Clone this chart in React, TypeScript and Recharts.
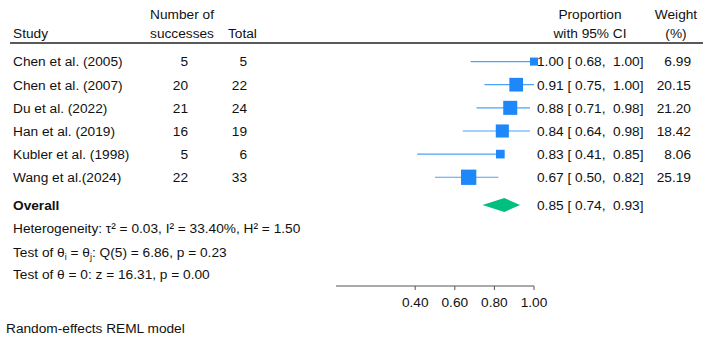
import { ScatterChart, Scatter, XAxis, YAxis, ErrorBar, ReferenceArea } from 'recharts';

// Study level data
const studies = ['Chen et al. (2005)', 'Chen et al. (2007)', 'Du et al. (2022)', 'Han et al. (2019)', 'Kubler et al. (1998)', 'Wang et al.(2024)'];
const successes = [5, 20, 21, 16, 5, 22];
const totals = [5, 22, 24, 19, 6, 33];
const proportions = [1.0, 0.91, 0.88, 0.84, 0.83, 0.67];
const ciLow = [0.68, 0.75, 0.71, 0.64, 0.41, 0.5];
const ciHigh = [1.0, 1.0, 0.98, 0.98, 0.85, 0.82];
const weights = [6.99, 20.15, 21.2, 18.42, 8.06, 25.19];

// Pooled estimate
const overallEst = 0.85;
const overallLow = 0.74;
const overallHigh = 0.93;

// Heterogeneity / tests
const tau2 = 0.03;
const i2 = 33.4;
const h2 = 1.5;
const qDf = 5;
const qStat = 6.86;
const qP = 0.23;
const zStat = 16.31;
const zP = 0.0;

const xTicks = [0.4, 0.6, 0.8, 1.0];

// vertical slots (in row units) for the text lines
const studyRows = studies.map((_, i) => i);
const overallRow = 6.2;
const hetRow = 7.2;
const testQRow = 8.24;
const testZRow = 9.18;
const rowTicks = [...studyRows, overallRow, hetRow, testQRow, testZRow];

const FONT = '"Liberation Sans", Arial, Helvetica, sans-serif';
const FS = 13.7;
const TXT = '#111';
const BLUE = '#1e88fb';
const LINE_BLUE = '#4aa3f7';
const GREEN = '#00bf7f';

const f2 = (v: number) => v.toFixed(2);
const ciText = (p: number, lo: number, hi: number) => `${f2(p)} [ ${f2(lo)},  ${f2(hi)}]`;

const points = studies.map((s, i) => ({
  row: i,
  p: proportions[i],
  err: [proportions[i] - ciLow[i], ciHigh[i] - proportions[i]],
  w: weights[i],
}));

function WeightedSquare(props: any) {
  const { cx, cy, payload } = props;
  const side = 3.05 * Math.sqrt(payload.w);
  return <rect x={cx - side / 2} y={cy - side / 2} width={side} height={side} fill={BLUE} />;
}

function Diamond(props: any) {
  const { x, y, width, height } = props;
  const mid = x + (width * (overallEst - overallLow)) / (overallHigh - overallLow);
  const cy = y + height / 2;
  return <polygon points={`${x},${cy} ${mid},${y} ${x + width},${cy} ${mid},${y + height}`} fill={GREEN} />;
}

function T(props: any) {
  const { children, ...rest } = props;
  return (
    <text fontFamily={FONT} fontSize={FS} fill={TXT} dy="0.35em" style={{ whiteSpace: 'pre' }} {...rest}>
      {children}
    </text>
  );
}

function RowTick(props: any) {
  const { y, payload } = props;
  const v = payload.value;
  const i = studyRows.indexOf(v);
  if (i >= 0) {
    return (
      <g>
        <T x={13} y={y}>{studies[i]}</T>
        <T x={188} y={y} textAnchor="end">{successes[i]}</T>
        <T x={247} y={y} textAnchor="end">{totals[i]}</T>
        <T x={537} y={y}>{ciText(proportions[i], ciLow[i], ciHigh[i])}</T>
        <T x={691} y={y} textAnchor="end">{f2(weights[i])}</T>
      </g>
    );
  }
  if (v === overallRow) {
    return (
      <g>
        <T x={13} y={y} fontWeight="bold">Overall</T>
        <T x={537} y={y}>{ciText(overallEst, overallLow, overallHigh)}</T>
      </g>
    );
  }
  if (v === hetRow) {
    return <T x={13} y={y}>{`Heterogeneity: τ² = ${f2(tau2)}, I² = ${f2(i2)}%, H² = ${f2(h2)}`}</T>;
  }
  if (v === testQRow) {
    return (
      <T x={13} y={y}>
        Test of θ<tspan fontSize={9} dy={3}>i</tspan>
        <tspan dy={-3}> = θ</tspan>
        <tspan fontSize={9} dy={3}>j</tspan>
        <tspan dy={-3}>{`: Q(${qDf}) = ${f2(qStat)}, p = ${f2(qP)}`}</tspan>
      </T>
    );
  }
  if (v === testZRow) {
    return <T x={13} y={y}>{`Test of θ = 0: z = ${f2(zStat)}, p = ${f2(zP)}`}</T>;
  }
  return null;
}

export default function App() {
  return (
    <div style={{ position: 'absolute', left: 0, top: 0, width: 712, height: 345, background: '#fff' }}>
      <ScatterChart width={712} height={345} margin={{ top: 50, right: 178, bottom: 29, left: 0 }}>
        <XAxis
          type="number"
          dataKey="p"
          domain={[0, 1]}
          ticks={xTicks}
          tickFormatter={f2}
          height={30}
          tickSize={4}
          tickMargin={7}
          stroke="#555"
          tick={{ fill: TXT, fontSize: FS, fontFamily: FONT }}
        />
        <YAxis
          type="number"
          dataKey="row"
          domain={[-0.5, 9.7]}
          reversed
          ticks={rowTicks}
          interval={0}
          width={336}
          axisLine={false}
          tickLine={false}
          tick={<RowTick />}
        />
        <ReferenceArea
          x1={overallLow}
          x2={overallHigh}
          y1={overallRow - 0.3}
          y2={overallRow + 0.3}
          shape={<Diamond />}
          ifOverflow="visible"
        />
        <Scatter data={points} shape={<WeightedSquare />} isAnimationActive={false}>
          <ErrorBar dataKey="err" direction="x" width={0} stroke={LINE_BLUE} strokeWidth={1.2} isAnimationActive={false} />
        </Scatter>
      </ScatterChart>
      <svg width={712} height={345} style={{ position: 'absolute', left: 0, top: 0, pointerEvents: 'none' }}>
        <T x={13} y={33}>Study</T>
        <T x={182} y={14} textAnchor="middle">Number of</T>
        <T x={182} y={33} textAnchor="middle">successes</T>
        <T x={228} y={33}>Total</T>
        <T x={590} y={14} textAnchor="middle">Proportion</T>
        <T x={590} y={33} textAnchor="middle">with 95% CI</T>
        <T x={676} y={14} textAnchor="middle">Weight</T>
        <T x={676} y={33} textAnchor="middle">(%)</T>
        <line x1={10} x2={703} y1={43} y2={43} stroke="#222" strokeWidth={1.3} />
        <T x={6} y={328}>Random-effects REML model</T>
      </svg>
    </div>
  );
}
